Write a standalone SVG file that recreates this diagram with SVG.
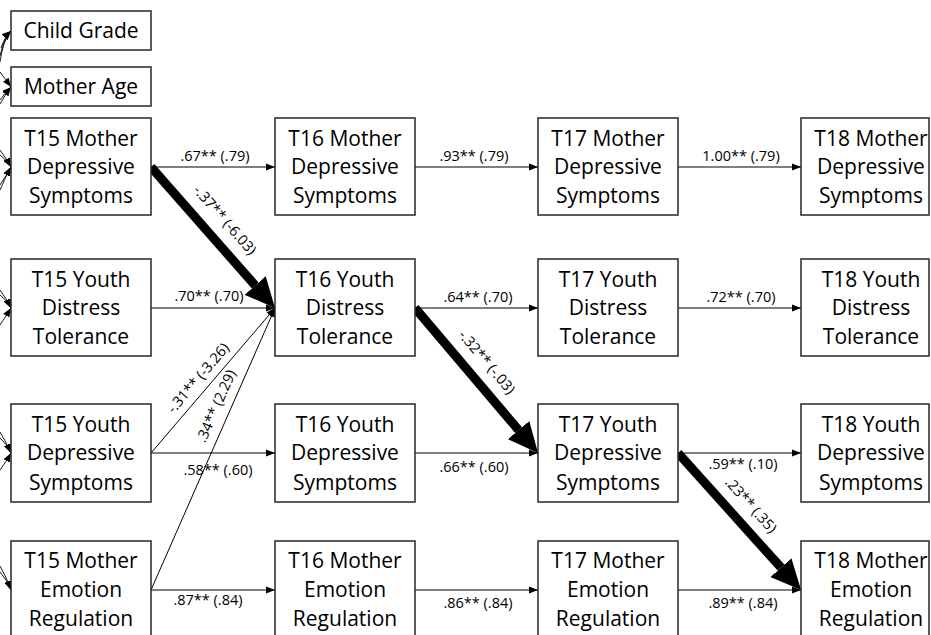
<svg xmlns="http://www.w3.org/2000/svg" width="931" height="635" viewBox="0 0 931 635">
<defs>
<style>
.box{fill:#fff;stroke:#262626;stroke-width:1.5}
.bt{font-family:"Open Sans","Noto Sans",sans-serif;font-size:21px;fill:#000;text-anchor:middle}
.lb{font-family:"Open Sans","Noto Sans",sans-serif;font-size:14.5px;fill:#000;text-anchor:middle}
.thin{stroke:#000;stroke-width:1;fill:none;marker-end:url(#sm)}
.thick{stroke:#000;stroke-width:9;fill:none;marker-end:url(#big)}
.cor{stroke:#000;stroke-width:0.9;fill:none;marker-end:url(#sm)}
</style>
<marker id="sm" markerUnits="userSpaceOnUse" markerWidth="9" markerHeight="8" refX="9" refY="4" orient="auto" viewBox="0 0 9 8"><path d="M0,0.5 L9,4 L0,7.5 z" fill="#000"/></marker>
<marker id="big" markerUnits="userSpaceOnUse" markerWidth="32" markerHeight="28" refX="0" refY="14" orient="auto" viewBox="0 0 32 28"><path d="M0,0 L30,14 L0,28 z" fill="#000"/></marker>
</defs>
<rect width="931" height="635" fill="#fff"/>

<g id="connectors">
<!-- left-side correlation arcs -->
<path class="cor" d="M0,62 Q3,40 11,31"/>
<path class="cor" d="M0,56 Q4,38 11,31"/>
<path class="cor" d="M1,48 Q5,36 11,31"/>
<path class="cor" d="M0,72 Q6,80 11,87"/>
<path class="cor" d="M0,104 Q5,95 11,87"/>
<path class="cor" d="M0,100 Q6,92 11,87"/>
<path class="cor" d="M0,150 Q6,158 11,167"/>
<path class="cor" d="M0,155 Q7,160 11,167"/>
<path class="cor" d="M0,185 Q6,176 11,167"/>
<path class="cor" d="M0,190 Q5,178 11,167"/>
<path class="cor" d="M0,290 Q6,298 11,308"/>
<path class="cor" d="M0,295 Q7,300 11,308"/>
<path class="cor" d="M0,325 Q6,316 11,308"/>
<path class="cor" d="M0,432 Q6,442 11,453"/>
<path class="cor" d="M0,438 Q7,444 11,453"/>
<path class="cor" d="M0,470 Q6,462 11,453"/>
<path class="cor" d="M0,566 Q6,576 11,590"/>
<path class="cor" d="M0,572 Q7,580 11,590"/>

<!-- horizontal stability paths -->
<line class="thin" x1="151" y1="167" x2="275" y2="167"/>
<line class="thin" x1="415" y1="167" x2="538" y2="167"/>
<line class="thin" x1="678" y1="167" x2="801" y2="167"/>
<line class="thin" x1="151" y1="308" x2="275" y2="308"/>
<line class="thin" x1="415" y1="308" x2="538" y2="308"/>
<line class="thin" x1="678" y1="308" x2="801" y2="308"/>
<line class="thin" x1="151" y1="453" x2="275" y2="453"/>
<line class="thin" x1="415" y1="453" x2="538" y2="453"/>
<line class="thin" x1="678" y1="453" x2="801" y2="453"/>
<line class="thin" x1="151" y1="590" x2="275" y2="590"/>
<line class="thin" x1="415" y1="590" x2="538" y2="590"/>
<line class="thin" x1="678" y1="590" x2="801" y2="590"/>

<!-- thin cross paths -->
<line class="thin" x1="151" y1="453" x2="275" y2="308"/>
<line class="thin" x1="151" y1="590" x2="275" y2="308"/>

<!-- thick paths -->
<line class="thick" x1="151" y1="167" x2="255.2" y2="285.5"/>
<line class="thick" x1="415" y1="308" x2="518.6" y2="430.1"/>
<line class="thick" x1="678" y1="453" x2="781" y2="567.6"/>

<!-- labels -->
<text class="lb" x="215" y="156" dy=".35em">.67** (.79)</text>
<text class="lb" x="474" y="156" dy=".35em">.93** (.79)</text>
<text class="lb" x="741" y="156" dy=".35em">1.00** (.79)</text>
<text class="lb" x="209" y="296" dy=".35em">.70** (.70)</text>
<text class="lb" x="478" y="297" dy=".35em">.64** (.70)</text>
<text class="lb" x="741" y="297" dy=".35em">.72** (.70)</text>
<text class="lb" x="218" y="470" dy=".35em">.58** (.60)</text>
<text class="lb" x="474" y="467" dy=".35em">.66** (.60)</text>
<text class="lb" x="743" y="464" dy=".35em">.59** (.10)</text>
<text class="lb" x="208" y="600" dy=".35em">.87** (.84)</text>
<text class="lb" x="478" y="603" dy=".35em">.86** (.84)</text>
<text class="lb" x="743" y="603" dy=".35em">.89** (.84)</text>
<text class="lb" transform="translate(225,220) rotate(48.7)" dy=".35em">-.37** (-6.03)</text>
<text class="lb" transform="translate(487,362) rotate(49.7)" dy=".35em">-.32** (-.03)</text>
<text class="lb" transform="translate(751,505) rotate(48.2)" dy=".35em">.23** (.35)</text>
<text class="lb" transform="translate(198,378) rotate(-49.5)" dy=".35em">-.31** (-3.26)</text>
<text class="lb" transform="translate(216,406) rotate(-66.3)" dy=".35em">.34** (2.29)</text>
</g>

<g id="child-grade"><rect class="box" x="11" y="11" width="140" height="39"/><text class="bt" x="81" y="31" dy=".35em">Child Grade</text></g>
<g id="mother-age"><rect class="box" x="11" y="67" width="140" height="39"/><text class="bt" x="81" y="87" dy=".35em">Mother Age</text></g>

<g id="t15-mds"><rect class="box" x="11" y="118" width="140" height="97"/><text class="bt" x="81" y="139" dy=".35em">T15 Mother</text><text class="bt" x="81" y="167" dy=".35em">Depressive</text><text class="bt" x="81" y="196" dy=".35em">Symptoms</text></g>
<g id="t16-mds"><rect class="box" x="275" y="118" width="140" height="97"/><text class="bt" x="345" y="139" dy=".35em">T16 Mother</text><text class="bt" x="345" y="167" dy=".35em">Depressive</text><text class="bt" x="345" y="196" dy=".35em">Symptoms</text></g>
<g id="t17-mds"><rect class="box" x="538" y="118" width="140" height="97"/><text class="bt" x="608" y="139" dy=".35em">T17 Mother</text><text class="bt" x="608" y="167" dy=".35em">Depressive</text><text class="bt" x="608" y="196" dy=".35em">Symptoms</text></g>
<g id="t18-mds"><rect class="box" x="801" y="118" width="128" height="97"/><text class="bt" x="871" y="139" dy=".35em">T18 Mother</text><text class="bt" x="871" y="167" dy=".35em">Depressive</text><text class="bt" x="871" y="196" dy=".35em">Symptoms</text></g>

<g id="t15-ydt"><rect class="box" x="11" y="259" width="140" height="97"/><text class="bt" x="81" y="280" dy=".35em">T15 Youth</text><text class="bt" x="81" y="308" dy=".35em">Distress</text><text class="bt" x="81" y="337" dy=".35em">Tolerance</text></g>
<g id="t16-ydt"><rect class="box" x="275" y="259" width="140" height="97"/><text class="bt" x="345" y="280" dy=".35em">T16 Youth</text><text class="bt" x="345" y="308" dy=".35em">Distress</text><text class="bt" x="345" y="337" dy=".35em">Tolerance</text></g>
<g id="t17-ydt"><rect class="box" x="538" y="259" width="140" height="97"/><text class="bt" x="608" y="280" dy=".35em">T17 Youth</text><text class="bt" x="608" y="308" dy=".35em">Distress</text><text class="bt" x="608" y="337" dy=".35em">Tolerance</text></g>
<g id="t18-ydt"><rect class="box" x="801" y="259" width="128" height="97"/><text class="bt" x="871" y="280" dy=".35em">T18 Youth</text><text class="bt" x="871" y="308" dy=".35em">Distress</text><text class="bt" x="871" y="337" dy=".35em">Tolerance</text></g>

<g id="t15-yds"><rect class="box" x="11" y="404" width="140" height="98"/><text class="bt" x="81" y="425" dy=".35em">T15 Youth</text><text class="bt" x="81" y="453" dy=".35em">Depressive</text><text class="bt" x="81" y="483" dy=".35em">Symptoms</text></g>
<g id="t16-yds"><rect class="box" x="275" y="404" width="140" height="98"/><text class="bt" x="345" y="425" dy=".35em">T16 Youth</text><text class="bt" x="345" y="453" dy=".35em">Depressive</text><text class="bt" x="345" y="483" dy=".35em">Symptoms</text></g>
<g id="t17-yds"><rect class="box" x="538" y="404" width="140" height="98"/><text class="bt" x="608" y="425" dy=".35em">T17 Youth</text><text class="bt" x="608" y="453" dy=".35em">Depressive</text><text class="bt" x="608" y="483" dy=".35em">Symptoms</text></g>
<g id="t18-yds"><rect class="box" x="801" y="404" width="128" height="98"/><text class="bt" x="871" y="425" dy=".35em">T18 Youth</text><text class="bt" x="871" y="453" dy=".35em">Depressive</text><text class="bt" x="871" y="483" dy=".35em">Symptoms</text></g>

<g id="t15-mer"><rect class="box" x="11" y="541" width="140" height="110"/><text class="bt" x="81" y="561" dy=".35em">T15 Mother</text><text class="bt" x="81" y="590" dy=".35em">Emotion</text><text class="bt" x="81" y="619" dy=".35em">Regulation</text></g>
<g id="t16-mer"><rect class="box" x="275" y="541" width="140" height="110"/><text class="bt" x="345" y="561" dy=".35em">T16 Mother</text><text class="bt" x="345" y="590" dy=".35em">Emotion</text><text class="bt" x="345" y="619" dy=".35em">Regulation</text></g>
<g id="t17-mer"><rect class="box" x="538" y="541" width="140" height="110"/><text class="bt" x="608" y="561" dy=".35em">T17 Mother</text><text class="bt" x="608" y="590" dy=".35em">Emotion</text><text class="bt" x="608" y="619" dy=".35em">Regulation</text></g>
<g id="t18-mer"><rect class="box" x="801" y="541" width="128" height="110"/><text class="bt" x="871" y="561" dy=".35em">T18 Mother</text><text class="bt" x="871" y="590" dy=".35em">Emotion</text><text class="bt" x="871" y="619" dy=".35em">Regulation</text></g>
</svg>
